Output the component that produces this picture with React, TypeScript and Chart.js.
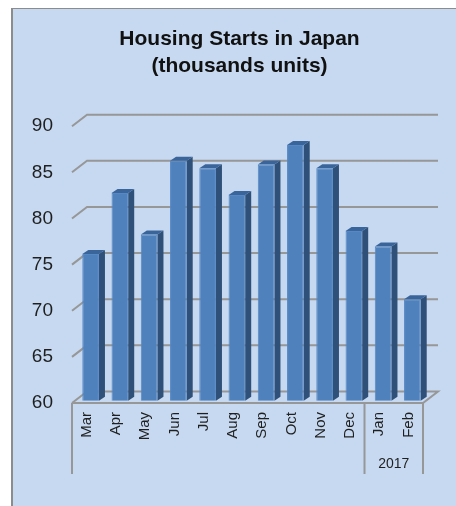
import React, { useEffect, useRef } from "react";
import { Chart, registerables } from "chart.js";

Chart.register(...registerables);

const months = ["Mar", "Apr", "May", "Jun", "Jul", "Aug", "Sep", "Oct", "Nov", "Dec", "Jan", "Feb"];
const starts = [75.9, 82.5, 78.0, 86.0, 85.2, 82.3, 85.6, 87.7, 85.2, 78.4, 76.7, 71.0];
const yearLabel = "2017";
const yearFirstIndex = 10;
const titleLines = ["Housing Starts in Japan", "(thousands units)"];
const axisMin = 60;
const axisMax = 90;

const LINE = "#979797";
const TEXT = "#1f1f1f";

const frame3d = {
  id: "frame3d",
  beforeDraw(chart: any) {
    const { ctx, width, height } = chart;
    ctx.save();
    ctx.fillStyle = "#ffffff";
    ctx.fillRect(0, 0, width, height);
    ctx.fillStyle = "#C6D9F1";
    ctx.fillRect(12, 8, width - 12, height - 8);
    ctx.fillStyle = "#8c8c8c";
    ctx.fillRect(11, 8, 2, height - 8);
    ctx.fillRect(11, 8, width - 11, 1);
    ctx.restore();
  },
  beforeDatasetsDraw(chart: any) {
    const { ctx, chartArea, scales } = chart;
    const dx = 15;
    const dy = 11.5;
    ctx.save();
    ctx.strokeStyle = LINE;
    ctx.lineWidth = 2;
    scales.y.ticks.forEach((_: any, i: number) => {
      const y = scales.y.getPixelForTick(i);
      ctx.beginPath();
      ctx.moveTo(chartArea.left, y);
      ctx.lineTo(chartArea.left + dx, y - dy);
      ctx.lineTo(chartArea.right + dx, y - dy);
      if (i === 0) {
        ctx.lineTo(chartArea.right, y);
        ctx.lineTo(chartArea.left, y);
      }
      ctx.stroke();
    });
    // category axis: multi-level separators
    const halfStep = (scales.x.getPixelForTick(1) - scales.x.getPixelForTick(0)) / 2;
    const bottom = chartArea.bottom + 71;
    const sep = scales.x.getPixelForTick(yearFirstIndex) - halfStep;
    [chartArea.left, sep, chartArea.right].forEach((x: number) => {
      ctx.beginPath();
      ctx.moveTo(x, chartArea.bottom);
      ctx.lineTo(x, bottom);
      ctx.stroke();
    });
    ctx.fillStyle = TEXT;
    ctx.font = "14px 'Liberation Sans'";
    ctx.textAlign = "center";
    ctx.textBaseline = "middle";
    ctx.fillText(yearLabel, (sep + chartArea.right) / 2, chartArea.bottom + 61);
    ctx.restore();

    // bars stand slightly behind the front edge of the floor
    ctx.save();
    ctx.translate(4, -2.3);
    const depthX = 6;
    const depthY = 4;
    chart.getDatasetMeta(0).data.forEach((bar: any) => {
      const { x, y, base, width: w } = bar.getProps(["x", "y", "base", "width"], true);
      const l = x - w / 2;
      const r = x + w / 2;
      ctx.fillStyle = "#2F5179";
      ctx.beginPath();
      ctx.moveTo(r, y);
      ctx.lineTo(r + depthX, y - depthY);
      ctx.lineTo(r + depthX, base - depthY);
      ctx.lineTo(r, base);
      ctx.closePath();
      ctx.fill();
      ctx.fillStyle = "#3A659B";
      ctx.beginPath();
      ctx.moveTo(l, y);
      ctx.lineTo(l + depthX, y - depthY);
      ctx.lineTo(r + depthX, y - depthY);
      ctx.lineTo(r, y);
      ctx.closePath();
      ctx.fill();
    });
  },
  afterDatasetsDraw(chart: any) {
    chart.ctx.restore();
  },
  afterLayout(chart: any) {
    // the title is centred on the plot frame, not on the whole canvas
    chart.titleBlock.left = 40;
    chart.titleBlock.right = 439;
  },
};

export default function App() {
  const ref = useRef<HTMLCanvasElement | null>(null);

  useEffect(() => {
    const chart = new Chart(ref.current as HTMLCanvasElement, {
      type: "bar",
      data: {
        labels: months,
        datasets: [
          {
            label: "Housing Starts",
            data: starts,
            base: axisMin,
            backgroundColor: "#4F81BD",
            borderColor: "#5688C4",
            borderWidth: 1,
            barPercentage: 0.57,
            categoryPercentage: 1,
            clip: false as any,
          },
        ],
      },
      options: {
        responsive: false,
        animation: false,
        layout: { padding: { left: 0, right: 33, top: 0, bottom: 0 } },
        plugins: {
          legend: { display: false },
          tooltip: { enabled: false },
          title: {
            display: true,
            text: titleLines,
            color: "#111111",
            font: { family: "'Liberation Sans'", size: 21, weight: "bold", lineHeight: 1.29 },
            padding: { top: 25.5, bottom: 46.5 },
          },
        },
        scales: {
          x: {
            grid: { display: false },
            border: { display: false },
            afterFit(scale: any) {
              scale.height = 103;
            },
            ticks: {
              autoSkip: false,
              minRotation: 90,
              maxRotation: 90,
              padding: 1,
              color: TEXT,
              font: { family: "'Liberation Sans'", size: 15 },
            },
          },
          y: {
            min: axisMin,
            max: axisMax,
            grid: { display: false },
            border: { display: false },
            afterFit(scale: any) {
              scale.width = 72;
            },
            ticks: {
              stepSize: 5,
              padding: 11,
              color: TEXT,
              font: { family: "'Liberation Sans'", size: 19 },
            },
          },
        },
      },
      plugins: [frame3d],
    } as any);
    return () => chart.destroy();
  }, []);

  return (
    <div style={{ position: "absolute", left: 0, top: 0 }}>
      <canvas ref={ref} width={456} height={506} style={{ display: "block" }} />
    </div>
  );
}
